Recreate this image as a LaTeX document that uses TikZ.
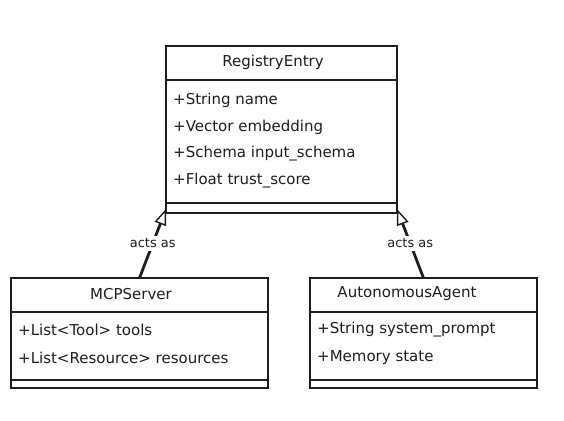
\documentclass[tikz,border=0pt]{standalone}
\usepackage{fontspec}
\setmainfont{DejaVu Sans}
\usetikzlibrary{arrows.meta,calc}
\definecolor{ink}{HTML}{1E1E1E}
\tikzset{
  umlbox/.style={draw=ink, line width=1.6pt, inner sep=0pt, outer sep=0pt, fill=white},
  divider/.style={draw=ink, line width=1.4pt},
  title/.style={font=\fontsize{15}{17}\selectfont, text=ink, inner sep=0pt},
  attr/.style={font=\fontsize{15}{17}\selectfont, text=ink, anchor=west, inner sep=0pt},
  rel/.style={draw=ink, line width=2.8pt, -{Triangle[open, length=16pt 0 0, width=12pt 0 0, line width=1.4pt]}},
  rellabel/.style={font=\fontsize{13}{15}\selectfont, text=ink, fill=white, inner sep=3pt}
}
\begin{document}
\begin{tikzpicture}[x=1pt,y=-1pt]
\useasboundingbox[fill=white] (0,0) rectangle (564,420);
% RegistryEntry
\node[umlbox, minimum width=231pt, minimum height=167pt] (reg) at (281.5,129.5) {};
\draw[divider] ($(reg.north west)+(0,34)$) -- ($(reg.north east)+(0,34)$);
\draw[divider] ($(reg.south west)+(0,-10)$) -- ($(reg.south east)+(0,-10)$);
\node[title] (regt) at (273,62) {RegistryEntry};
\node[attr] (rega1) at (173,100) {+String name};
\node[attr] (rega2) at (173,127) {+Vector embedding};
\node[attr] (rega3) at (173,154) {+Schema input\_schema};
\node[attr] (rega4) at (173,181) {+Float trust\_score};
% MCPServer
\node[umlbox, minimum width=257pt, minimum height=110pt] (mcp) at (139.5,333) {};
\draw[divider] ($(mcp.north west)+(0,34)$) -- ($(mcp.north east)+(0,34)$);
\draw[divider] ($(mcp.south west)+(0,-8)$) -- ($(mcp.south east)+(0,-8)$);
\node[title] (mcpt) at (131,294) {MCPServer};
\node[attr] (mcpa1) at (18,330) {+List<Tool> tools};
\node[attr] (mcpa2) at (18,358) {+List<Resource> resources};
% AutonomousAgent
\node[umlbox, minimum width=227pt, minimum height=110pt] (agent) at (423.5,333) {};
\draw[divider] ($(agent.north west)+(0,34)$) -- ($(agent.north east)+(0,34)$);
\draw[divider] ($(agent.south west)+(0,-8)$) -- ($(agent.south east)+(0,-8)$);
\node[title] (agentt) at (407,294) {AutonomousAgent};
\node[attr] (agenta1) at (317,330) {+String system\_prompt};
\node[attr] (agenta2) at (317,358) {+Memory state};
% relations
\draw[rel] (mcp.north) -- node[rellabel, pos=0.5] (l1) {acts as} ($(reg.south west)+(0,-4)$);
\draw[rel] (agent.north) -- node[rellabel, pos=0.5] (l2) {acts as} ($(reg.south east)+(0,-4)$);
\end{tikzpicture}
\end{document}
